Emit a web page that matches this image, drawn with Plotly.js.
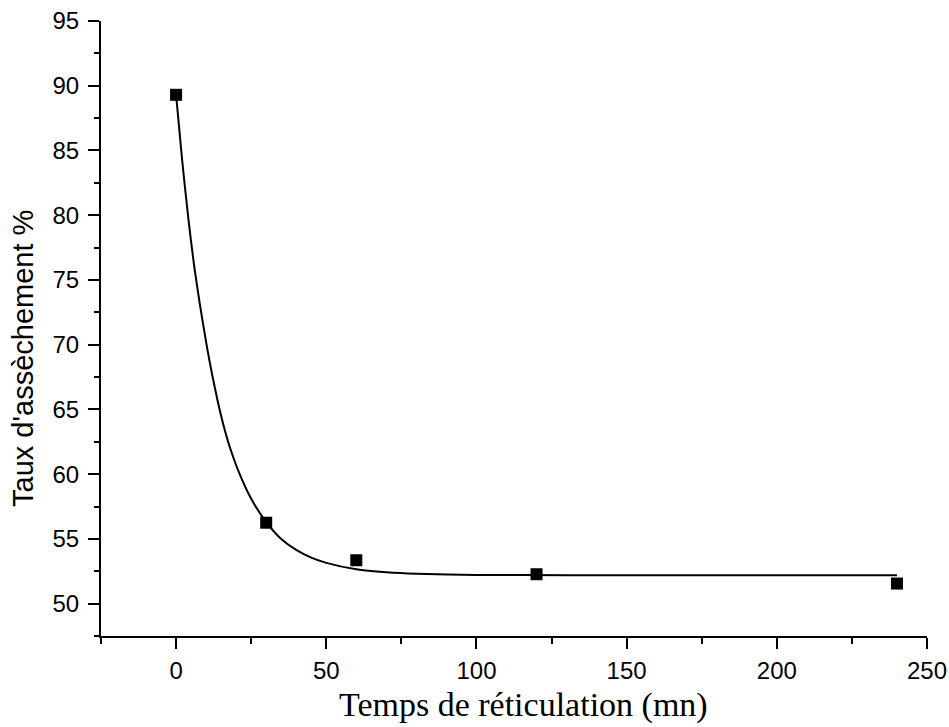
<!DOCTYPE html>
<html>
<head>
<meta charset="utf-8">
<script src="https://cdn.plot.ly/plotly-3.0.1.min.js"></script>
<style>html,body{margin:0;padding:0;background:#fff;}#chart{width:949px;height:727px;}</style>
</head>
<body>
<div id="chart"></div>
<script>
// Measured points
const timeMin = [0, 30, 60, 120, 240];
const dryingRate = [89.3, 56.25, 53.35, 52.27, 51.55];

// Fitted curve
const fitTime = [0, 2, 4, 6, 8, 10, 12, 15, 18, 21, 25, 30, 35, 40, 45, 50, 60, 70, 80, 100, 130, 160, 200, 240];
const fitRate = [89.3, 84.3, 79.9, 76.1, 73.0, 70.2, 67.7, 64.5, 62.0, 60.1, 58.1, 56.3, 55.0, 54.15, 53.55, 53.15, 52.65, 52.42, 52.3, 52.22, 52.2, 52.2, 52.2, 52.2];

const xTicks = [0, 50, 100, 150, 200, 250];
const yTicks = [50, 55, 60, 65, 70, 75, 80, 85, 90, 95];

const xTitle = "Temps de réticulation (mn)";
const yTitle = "Taux d'assèchement %";

const traces = [
  {
    x: fitTime, y: fitRate, type: 'scatter', mode: 'lines',
    line: {color: '#000', width: 2, shape: 'spline', smoothing: 0.6},
    hoverinfo: 'skip', showlegend: false
  },
  {
    x: timeMin, y: dryingRate, type: 'scatter', mode: 'markers',
    marker: {symbol: 'square', size: 12, color: '#000'},
    showlegend: false
  }
];

const axisCommon = {
  showgrid: false, zeroline: false, showline: true, linecolor: '#000', linewidth: 2,
  ticks: 'outside', tickcolor: '#000', tickwidth: 2, ticklen: 11,
  tickfont: {family: 'Liberation Sans, Arial, sans-serif', size: 24, color: '#000'},
  mirror: false
};

const layout = {
  width: 949, height: 727,
  margin: {l: 101, r: 22, t: 21, b: 91},
  paper_bgcolor: '#fff', plot_bgcolor: '#fff',
  xaxis: Object.assign({}, axisCommon, {
    range: [-25, 250], tickvals: xTicks, ticktext: xTicks.map(String),
    ticklabelstandoff: 1,
    minor: {dtick: 25, tick0: 0, ticks: 'outside', ticklen: 6, tickwidth: 2, tickcolor: '#000'}
  }),
  yaxis: Object.assign({}, axisCommon, {
    range: [47.5, 95], tickvals: yTicks, ticktext: yTicks.map(String),
    ticklabelstandoff: 4,
    minor: {dtick: 2.5, tick0: 0, ticks: 'outside', ticklen: 5, tickwidth: 2, tickcolor: '#000'}
  }),
  annotations: [
    {
      text: yTitle, xref: 'paper', yref: 'paper', x: -0.0945, y: 0.452,
      xanchor: 'center', yanchor: 'middle', textangle: -90, showarrow: false,
      font: {family: 'Liberation Sans, Arial, sans-serif', size: 29, color: '#000'}
    },
    {
      text: xTitle, xref: 'paper', yref: 'paper', x: 0.5115, y: -0.1129,
      xanchor: 'center', yanchor: 'middle', showarrow: false,
      font: {family: 'Liberation Serif, Times New Roman, serif', size: 34, color: '#000'}
    }
  ]
};

Plotly.newPlot('chart', traces, layout, {displayModeBar: false, staticPlot: true});
</script>
</body>
</html>
